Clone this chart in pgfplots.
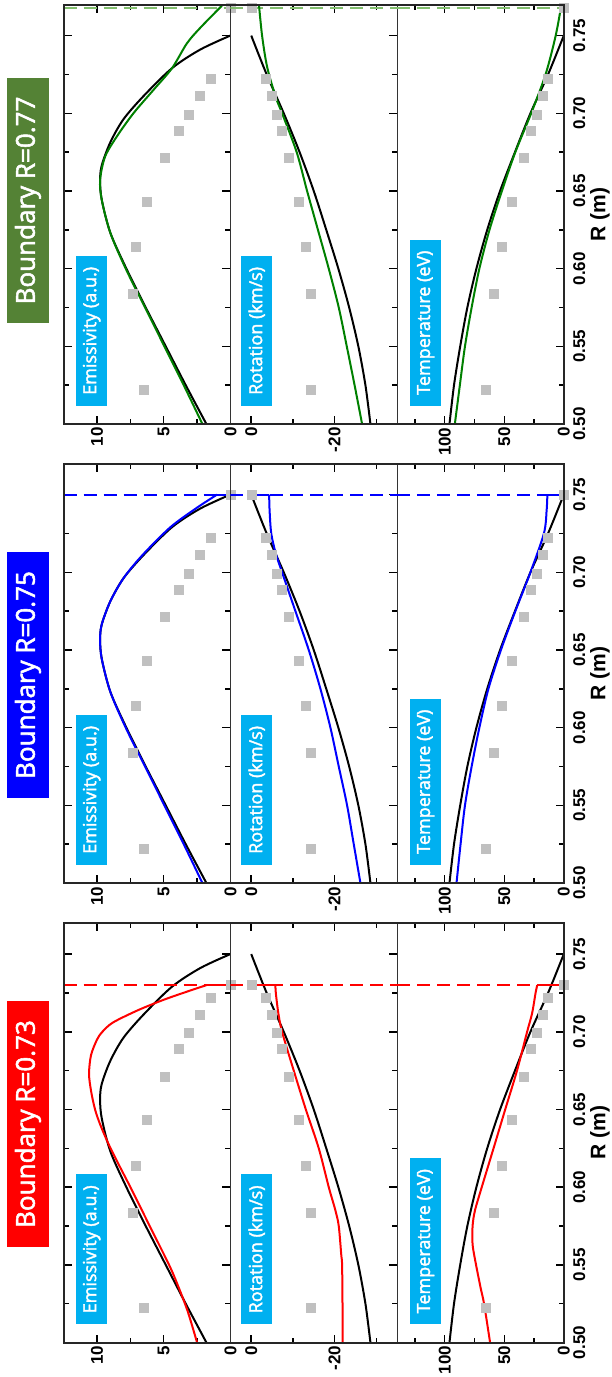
\documentclass[border=0pt]{standalone}
\usepackage{pgfplots}
\pgfplotsset{compat=1.18}
\usepackage{pgfplotstable}
\usepackage{fontspec}
\setmainfont{Liberation Sans}
\newfontfamily\osans[FakeBold=2]{Open Sans}
\newcommand{\ticks}{\fontsize{17}{17}\selectfont\bfseries}

\definecolor{cyanbox}{RGB}{0,176,240}
\definecolor{gbox}{RGB}{84,130,53}
\definecolor{sq}{RGB}{192,192,192}
\definecolor{cgreen}{RGB}{0,128,0}
\definecolor{cblue}{RGB}{0,0,255}
\definecolor{cred}{RGB}{255,0,0}
\definecolor{gdash}{RGB}{130,190,110}

% measured points (gray squares)
\pgfplotstableread{
R e r t
0.5223 6.49 -14.30 65.7
0.5838 7.31 -14.30 59.0
0.6141 7.08 -13.08 52.3
0.6431 6.31 -11.39 44.0
0.6714 4.93 -8.94 34.0
0.6888 3.88 -7.25 27.7
0.6991 3.14 -6.21 23.0
0.7111 2.29 -4.89 18.0
0.7221 1.47 -3.58 13.3
}\sqdata

% black reference curves
\pgfplotstableread{
R v
0.500 1.8
0.525 3.35
0.550 4.85
0.575 6.35
0.600 7.8
0.623 9.0
0.644 9.64
0.656 9.77
0.666 9.66
0.681 9.02
0.696 8.03
0.711 6.52
0.729 4.38
0.741 2.26
0.750 0.0
}\blkE
\pgfplotstableread{
R v
0.500 -28.6
0.525 -27.4
0.550 -25.7
0.575 -23.5
0.600 -20.9
0.625 -18.0
0.650 -15.0
0.675 -11.6
0.700 -7.8
0.725 -3.7
0.750 0.0
}\blkR
\pgfplotstableread{
R v
0.500 96
0.525 92.2
0.550 87
0.575 81
0.600 73.4
0.625 64.3
0.650 53.5
0.675 41
0.700 28
0.725 13.2
0.750 0
}\blkT

% green (boundary 0.77)
\pgfplotstableread{
R v
0.500 2.1
0.525 3.5
0.550 4.95
0.575 6.4
0.600 7.85
0.623 9.0
0.644 9.64
0.657 9.77
0.672 9.4
0.685 8.52
0.700 7.27
0.715 5.77
0.729 4.38
0.745 3.26
0.755 2.26
0.770 0.55
}\grnE
\pgfplotstableread{
R v
0.500 -26.6
0.525 -24.8
0.549 -23.0
0.575 -21.0
0.600 -18.6
0.625 -16.0
0.650 -13.4
0.675 -10.9
0.700 -7.4
0.711 -5.8
0.730 -3.8
0.750 -2.6
0.770 -1.85
}\grnR
\pgfplotstableread{
R v
0.500 91.5
0.525 87.3
0.550 83
0.575 77.4
0.600 70.9
0.625 62.4
0.650 52
0.675 40.7
0.700 27.4
0.725 15.3
0.750 6.8
0.770 2.0
}\grnT

% blue (boundary 0.75)
\pgfplotstableread{
R v
0.500 2.1
0.525 3.5
0.550 4.95
0.575 6.4
0.600 7.85
0.623 9.0
0.644 9.64
0.656 9.77
0.666 9.66
0.681 9.02
0.696 8.03
0.711 6.6
0.729 4.5
0.741 2.6
0.750 1.0
}\bluE
\pgfplotstableread{
R v
0.500 -26.2
0.525 -24.6
0.550 -23.0
0.575 -21.0
0.600 -19.0
0.625 -16.6
0.650 -13.8
0.675 -10.6
0.700 -7.4
0.712 -5.9
0.725 -4.8
0.740 -4.4
0.750 -4.3
}\bluR
\pgfplotstableread{
R v
0.500 90.1
0.525 86.7
0.550 83
0.575 77.4
0.600 70.9
0.625 63.3
0.650 52.8
0.675 40.7
0.700 28
0.725 16.7
0.740 14.4
0.750 13.8
}\bluT

% red (boundary 0.73)
\pgfplotstableread{
R v
0.500 2.5
0.520 3.2
0.537 3.95
0.550 4.6
0.575 6.05
0.600 7.5
0.615 8.4
0.628 9.15
0.640 9.75
0.650 10.15
0.662 10.45
0.673 10.6
0.685 10.45
0.695 10.0
0.700 9.6
0.706 8.8
0.714 6.9
0.7206 5.0
0.726 3.2
0.730 1.8
}\redE
\pgfplotstableread{
R v
0.500 -21.9
0.525 -21.9
0.550 -21.8
0.5565 -21.6
0.575 -21.0
0.585 -20.2
0.600 -18.6
0.625 -16.2
0.650 -13.1
0.675 -10.2
0.700 -7.4
0.712 -6.5
0.725 -5.9
0.730 -5.8
}\redR
\pgfplotstableread{
R v
0.500 61.9
0.525 67
0.535 69.8
0.550 73.7
0.563 76.6
0.575 76.6
0.585 74.6
0.600 68.9
0.625 59
0.650 49.2
0.675 39.3
0.700 30.8
0.712 26.6
0.725 23.7
0.730 22.3
}\redT

\pgfplotsset{
  base/.style={scale only axis, width=166.7pt, height=419.5pt, anchor=south west,
    x dir=reverse, ymin=0.5, ymax=0.77,
    ytick={0.50,0.55,0.60,0.65,0.70,0.75},
    minor ytick={0.525,0.575,0.625,0.675,0.725},
    tick align=inside, major tick length=8pt, minor tick length=5pt,
    tick style={line width=1.5pt, black},
    axis line style={line width=1pt, black!80},
    xticklabel style={rotate=90, anchor=east, font=\ticks},
    yticklabels={},
    clip=true},
  epanel/.style={base, xmin=0, xmax=12.5, xtick={0,5,10}, xticklabels={0,5,10},
    minor xtick={2.5,7.5}, ytick pos=both},
  rpanel/.style={base, xmin=-35, xmax=5, xtick={-20,0}, xticklabels={-20,0},
    minor xtick={-30,-10}, ytick pos=right},
  tpanel/.style={base, xmin=0, xmax=140, xtick={0,50,100}, xticklabels={0,50,100},
    minor xtick={25,75,125}, ytick pos=right, yticklabel pos=right,
    yticklabels={0.50,0.55,0.60,0.65,0.70,0.75},
    yticklabel style={xshift=6pt, rotate=90, anchor=north, font=\ticks}},
  sqr/.style={only marks, mark=square*, mark size=4.5pt, color=sq},
  cur/.style={line width=2pt, smooth, tension=0.5},
  bnd/.style={line width=2pt, dash pattern=on 13pt off 7pt},
}

\tikzset{
  clab/.style={fill=cyanbox, text=white, font=\osans\fontsize{18}{18}\selectfont,
    inner xsep=11pt, inner ysep=0pt, minimum height=31pt, rotate=90, anchor=north west},
  blab/.style={text=white, font=\osans\fontsize{26}{26}\selectfont,
    inner xsep=19pt, inner ysep=0pt, minimum height=42pt, rotate=90},
  rlab/.style={rotate=90, font=\fontsize{21}{21}\selectfont\bfseries},
}

\begin{document}
\begin{tikzpicture}
\useasboundingbox (0,0) rectangle (611pt,-1377pt);

% ================= Block 1: boundary 0.77 (green) =================
\begin{axis}[epanel, at={(63.7pt,-424pt)}]
\addplot[sqr] table[x=e,y=R]{\sqdata};
\addplot[sqr] coordinates {(0,0.768)};
\addplot[bnd, gdash] coordinates {(12.5,0.768) (0,0.768)};
\addplot[cur, black] table[x=v,y=R]{\blkE};
\addplot[cur, cgreen] table[x=v,y=R]{\grnE};
\end{axis}
\begin{axis}[rpanel, at={(230.4pt,-424pt)}]
\addplot[sqr] table[x=r,y=R]{\sqdata};
\addplot[sqr] coordinates {(0,0.768)};
\addplot[bnd, gdash] coordinates {(5,0.768) (-35,0.768)};
\addplot[cur, black] table[x=v,y=R]{\blkR};
\addplot[cur, cgreen] table[x=v,y=R]{\grnR};
\end{axis}
\begin{axis}[tpanel, at={(397.1pt,-424pt)}]
\addplot[sqr] table[x=t,y=R]{\sqdata};
\addplot[sqr] coordinates {(0,0.768)};
\addplot[bnd, gdash] coordinates {(140,0.768) (0,0.768)};
\addplot[cur, black] table[x=v,y=R]{\blkT};
\addplot[cur, cgreen] table[x=v,y=R]{\grnT};
\end{axis}
\draw[line width=2pt, black!85] (63.7pt,-424pt) rectangle (563.8pt,-4.5pt);

% ================= Block 2: boundary 0.75 (blue) =================
\begin{axis}[epanel, at={(63.7pt,-883pt)}]
\addplot[sqr] table[x=e,y=R]{\sqdata};
\addplot[sqr] coordinates {(0,0.75)};
\addplot[cur, black] table[x=v,y=R]{\blkE};
\addplot[cur, cblue] table[x=v,y=R]{\bluE};
\addplot[line width=2pt, cblue] coordinates {(1.0,0.75) (0,0.75)};
\addplot[bnd, cblue] coordinates {(12.5,0.75) (0,0.75)};
\end{axis}
\begin{axis}[rpanel, at={(230.4pt,-883pt)}]
\addplot[sqr] table[x=r,y=R]{\sqdata};
\addplot[sqr] coordinates {(0,0.75)};
\addplot[cur, black] table[x=v,y=R]{\blkR};
\addplot[cur, cblue] table[x=v,y=R]{\bluR};
\addplot[line width=2pt, cblue] coordinates {(-4.3,0.75) (0,0.75)};
\addplot[bnd, cblue] coordinates {(5,0.75) (-35,0.75)};
\end{axis}
\begin{axis}[tpanel, at={(397.1pt,-883pt)}]
\addplot[sqr] table[x=t,y=R]{\sqdata};
\addplot[sqr] coordinates {(0,0.75)};
\addplot[cur, black] table[x=v,y=R]{\blkT};
\addplot[cur, cblue] table[x=v,y=R]{\bluT};
\addplot[line width=2pt, cblue] coordinates {(13.8,0.75) (0,0.75)};
\addplot[bnd, cblue] coordinates {(140,0.75) (0,0.75)};
\end{axis}
\draw[line width=2pt, black!85] (63.7pt,-883pt) rectangle (563.8pt,-463.5pt);

% ================= Block 3: boundary 0.73 (red) =================
\begin{axis}[epanel, at={(63.7pt,-1342.5pt)}]
\addplot[sqr] table[x=e,y=R]{\sqdata};
\addplot[sqr] coordinates {(0,0.73)};
\addplot[cur, black] table[x=v,y=R]{\blkE};
\addplot[cur, cred] table[x=v,y=R]{\redE};
\addplot[line width=2pt, cred] coordinates {(1.8,0.73) (0,0.73)};
\addplot[bnd, cred] coordinates {(12.5,0.73) (0,0.73)};
\end{axis}
\begin{axis}[rpanel, at={(230.4pt,-1342.5pt)}]
\addplot[sqr] table[x=r,y=R]{\sqdata};
\addplot[sqr] coordinates {(0,0.73)};
\addplot[cur, black] table[x=v,y=R]{\blkR};
\addplot[cur, cred] table[x=v,y=R]{\redR};
\addplot[line width=2pt, cred] coordinates {(-5.8,0.73) (0,0.73)};
\addplot[bnd, cred] coordinates {(5,0.73) (-35,0.73)};
\end{axis}
\begin{axis}[tpanel, at={(397.1pt,-1342.5pt)}]
\addplot[sqr] table[x=t,y=R]{\sqdata};
\addplot[sqr] coordinates {(0,0.73)};
\addplot[cur, black] table[x=v,y=R]{\blkT};
\addplot[cur, cred] table[x=v,y=R]{\redT};
\addplot[line width=2pt, cred] coordinates {(22.3,0.73) (0,0.73)};
\addplot[bnd, cred] coordinates {(140,0.73) (0,0.73)};
\end{axis}
\draw[line width=2pt, black!85] (63.7pt,-1342.5pt) rectangle (563.8pt,-923pt);

% ================= labels =================
\foreach \b in {424,883,1342.5}{
  \pgfmathsetmacro{\yb}{-\b+18}
  \node[clab] at (76pt,\yb pt) {Emissivity (a.u.)};
  \node[clab] at (241pt,\yb pt) {Rotation (km/s)};
  \node[clab] at (410pt,\yb pt) {Temperature (eV)};
  \pgfmathsetmacro{\yr}{-\b+209.75}
  \node[rlab] at (600pt,\yr pt) {R (m)};
}
\node[blab, fill=gbox] at (28pt,-200.5pt) {Boundary R=0.77};
\node[blab, fill=cblue] at (28pt,-675pt) {Boundary R=0.75};
\node[blab, fill=cred] at (28pt,-1124pt) {Boundary R=0.73};
\end{tikzpicture}
\end{document}
